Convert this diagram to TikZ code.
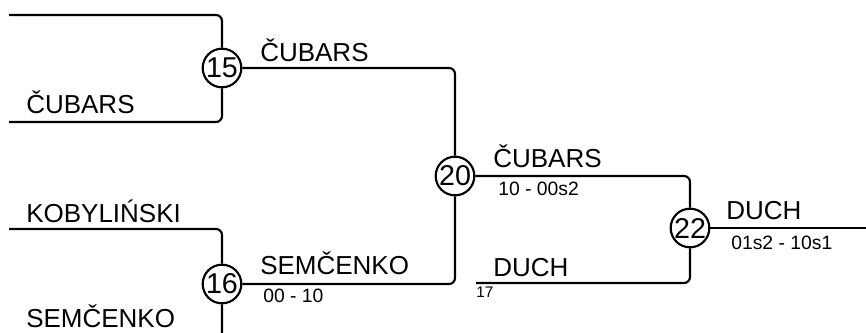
\documentclass[tikz,border=0pt]{standalone}
\usepackage{fontspec}
\setmainfont{Liberation Sans}
\usetikzlibrary{positioning}

\tikzset{
  match/.style={circle, draw, line width=1.6pt, fill=white, minimum size=29pt,
                inner sep=0pt, font=\fontsize{21.5}{22}\selectfont},
  player/.style={anchor=base west, inner sep=0pt, font=\fontsize{19.5}{20}\selectfont},
  result/.style={anchor=base west, inner sep=0pt, font=\fontsize{14.5}{15}\selectfont},
  seed/.style={anchor=base west, inner sep=0pt, font=\fontsize{11.5}{12}\selectfont},
  wire/.style={line width=1.6pt, rounded corners=4.5pt}
}

\begin{document}
\begin{tikzpicture}[x=0.75pt, y=-0.75pt]
  \useasboundingbox (0,0) rectangle (866,332);
  \clip (0,0) rectangle (866,332);

  % matches
  \node[match] (m15) at (222,68) {15};
  \node[match] (m16) at (222,284) {16};
  \node[match] (m20) at (455,176) {20};
  \node[match] (m22) at (690,228) {22};

  % free line ends
  \coordinate (a1) at (9,15);
  \coordinate (a2) at (9,122);
  \coordinate (b1) at (9,229);
  \coordinate (b2) at (9,338);
  \coordinate (c2) at (476,283);
  \coordinate (win) at (866,228);

  \draw[wire] (a1) -| (m15);
  \draw[wire] (a2) -| (m15);
  \draw[wire] (b1) -| (m16);
  \draw[wire] (b2) -| (m16);
  \draw[wire] (m15) -| (m20);
  \draw[wire] (m16) -| (m20);
  \draw[wire] (m20) -| (m22);
  \draw[wire] (c2) -| (m22);
  \draw[wire] (m22) -- (win);

  % names and results
  \node[player] (p15b) at (26,113) {ČUBARS};
  \node[player] (w15) at (260,61) {ČUBARS};
  \node[player] (p16a) at (26,222) {KOBYLIŃSKI};
  \node[player] (p16b) at (26,327) {SEMČENKO};
  \node[player] (w16) at (260,274) {SEMČENKO};
  \node[result] (r16) at (263,302) {00 - 10};
  \node[player] (w20) at (493,167) {ČUBARS};
  \node[result] (r20) at (498,195) {10 - 00s2};
  \node[player] (p22b) at (493,276) {DUCH};
  \node[seed] (s17) at (476,297) {17};
  \node[player] (w22) at (726,219) {DUCH};
  \node[result] (r22) at (731,249) {01s2 - 10s1};
\end{tikzpicture}
\end{document}
